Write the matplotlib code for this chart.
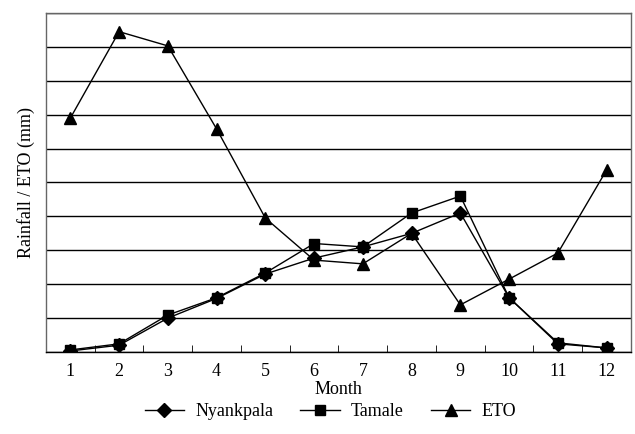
import numpy as np
import matplotlib.pyplot as plt

plt.rcParams['font.family'] = ['Liberation Serif', 'DejaVu Serif']

months = [1, 2, 3, 4, 5, 6, 7, 8, 9, 10, 11, 12]
nyankpala = [0.6, 4, 20, 31.6, 46, 55.4, 62, 70, 82, 32, 4.8, 2.4]
tamale = [1.2, 4.8, 21.8, 32, 46.6, 64, 62, 82, 92, 32, 5.4, 2.4]
eto = [138, 189, 180.6, 131.6, 79, 54.2, 52, 70, 27.8, 43, 58.4, 107.4]

fig = plt.figure(figsize=(6.35, 4.34), dpi=100)
ax = fig.add_axes([0.0724, 0.189, 0.9213, 0.781])

x = np.arange(len(months))
ax.plot(x, nyankpala, color='black', lw=1, marker='D', ms=7, label='Nyankpala')
ax.plot(x, tamale, color='black', lw=1, marker='s', ms=7, label='Tamale')
ax.plot(x, eto, color='black', lw=1, marker='^', ms=9, label='ETO')

ax.set_xlim(-0.5, len(months) - 0.5)
ax.set_ylim(0, 200)
ax.set_yticks(np.arange(0, 201, 20))
ax.yaxis.grid(True, color='black', lw=1)
ax.set_axisbelow(True)
ax.tick_params(axis='y', left=False, labelleft=False)

ax.set_xticks(x)
ax.set_xticklabels([str(m) for m in months], fontsize=13)
ax.tick_params(axis='x', which='major', length=0, pad=8)
ax.set_xticks(np.arange(0.5, len(months) - 1, 1), minor=True)
ax.tick_params(axis='x', which='minor', direction='in', length=5, color='black')

for s in ax.spines.values():
    s.set_color('#666666')
    s.set_linewidth(1)
ax.spines['bottom'].set_color('black')

ax.set_xlabel('Month', fontsize=13, labelpad=1)
ax.set_ylabel('Rainfall / ETO (mm)', fontsize=13, labelpad=8)

fig.legend(loc='lower center', ncol=3, frameon=False, fontsize=13,
           bbox_to_anchor=(0.52, -0.005), handlelength=2.2, handletextpad=0.6,
           columnspacing=1.5)

fig.savefig('out.png', dpi=100)
